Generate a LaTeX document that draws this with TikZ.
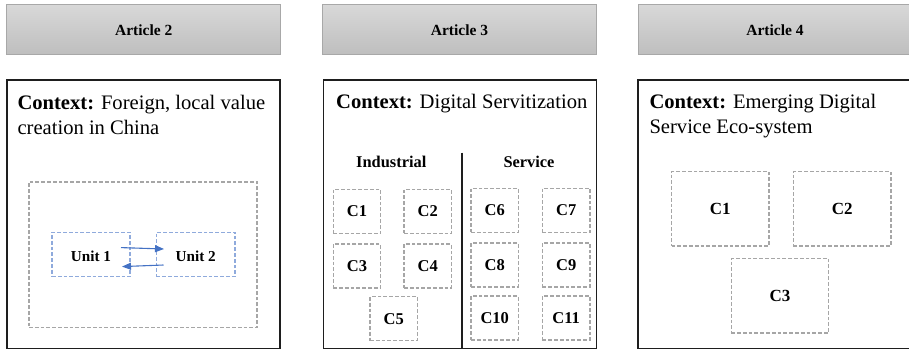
\documentclass[tikz,border=0pt]{standalone}
\usepackage{fontspec}
\setmainfont{Liberation Serif}
\usetikzlibrary{arrows.meta}
\definecolor{hdrtop}{HTML}{D8D8D8}
\definecolor{hdrbot}{HTML}{BEBEBE}
\definecolor{hdrline}{HTML}{A8A8A8}
\definecolor{dashgray}{HTML}{A6A6A6}
\definecolor{unitblue}{HTML}{8FAADC}
\definecolor{arrowblue}{HTML}{4472C4}
\definecolor{boxline}{HTML}{1E1E1E}
\tikzset{
  hdr/.style={draw=hdrline, line width=1pt, top color=hdrtop, bottom color=hdrbot,
    inner sep=0pt, minimum height=50pt, font=\bfseries\fontsize{15.5}{18}\selectfont},
  mainbox/.style={draw=boxline, line width=1.6pt, inner sep=0pt, minimum height=268.5pt},
  cbox/.style={draw=dashgray, line width=1.2pt, dash pattern=on 3.8pt off 2pt,
    inner sep=0pt, font=\bfseries\fontsize{16.5}{18}\selectfont},
  smallc/.style={cbox, minimum width=47.5pt, minimum height=44pt},
  bigc/.style={cbox, minimum width=97.5pt, minimum height=74.5pt, font=\bfseries\fontsize{17}{19}\selectfont},
  ubox/.style={draw=unitblue, line width=1.2pt, dash pattern=on 3.8pt off 2pt,
    inner sep=0pt, minimum height=44.4pt},
  ctx/.style={anchor=base west, inner sep=0pt, font=\fontsize{20.6}{25}\selectfont},
  lbl/.style={anchor=base, inner sep=0pt, font=\bfseries\fontsize{16.4}{18}\selectfont},
  ulbl/.style={anchor=base, inner sep=0pt, font=\bfseries\fontsize{15.2}{18}\selectfont},
  flow/.style={draw=arrowblue, line width=1.1pt, -{Triangle[length=9pt,width=7pt]}},
  divider/.style={draw=boxline, line width=1.5pt}
}
\begin{document}
\begin{tikzpicture}[x=1pt,y=-1pt]
\useasboundingbox (0,0) rectangle (909,350);
\clip (0,0) rectangle (909,350);

% headers
\node[hdr, minimum width=274pt] (h2) at (143.7,30) {Article 2};
\node[hdr, minimum width=274.4pt] (h3) at (459.5,30) {Article 3};
\node[hdr, minimum width=274pt] (h4) at (775,30) {Article 4};

% main boxes
\node[mainbox, minimum width=273.3pt] (m2) at (143.35,214.25) {};
\node[mainbox, minimum width=273.2pt] (m3) at (459.9,214.25) {};
\node[mainbox, minimum width=274pt] (m4) at (775,214.25) {};

% ---------- Article 2 ----------
\node[ctx] (t2a) at (17.3,109.5) {\textbf{Context:} Foreign, local value};
\node[ctx] (t2b) at (17.3,134) {creation in China};
\node[cbox, minimum width=228pt, minimum height=145.7pt] (outer2) at (143,254.8) {};
\node[ubox, minimum width=78pt] (u1) at (91,254.5) {};
\node[ubox, minimum width=78.7pt] (u2) at (195.7,254.5) {};
\node[ulbl] (u1t) at (91,261.5) {Unit 1};
\node[ulbl] (u2t) at (195.7,261.5) {Unit 2};
\coordinate (a1s) at (121,247.6);
\coordinate (a1e) at (164,249);
\coordinate (a2s) at (163.5,265);
\coordinate (a2e) at (122,266.6);
\draw[flow] (a1s) -- (a1e);
\draw[flow] (a2s) -- (a2e);

% ---------- Article 3 ----------
\node[ctx] (t3) at (336,108.8) {\textbf{Context:} Digital Servitization};
\coordinate (dtop) at (462,152.7);
\draw[divider] (dtop) -- (dtop |- m3.south);
\node[lbl] (ind) at (391.3,167) {Industrial};
\node[lbl] (ser) at (529,167) {Service};
\node[smallc] (c1) at (357,211.3) {C1};
\node[smallc] (c2) at (427.7,211.3) {C2};
\node[smallc] (c3) at (357,266) {C3};
\node[smallc] (c4) at (427.7,266) {C4};
\node[smallc] (c5) at (393.7,318.7) {C5};
\node[smallc] (c6) at (494.7,210.3) {C6};
\node[smallc] (c7) at (566.2,210.3) {C7};
\node[smallc] (c8) at (494.7,265) {C8};
\node[smallc] (c9) at (566.2,265) {C9};
\node[smallc] (c10) at (494.7,318) {C10};
\node[smallc] (c11) at (566.2,318) {C11};

% ---------- Article 4 ----------
\node[ctx] (t4a) at (649.3,108.5) {\textbf{Context:} Emerging Digital};
\node[ctx] (t4b) at (649.3,133) {Service Eco-system};
\node[bigc] (d1) at (720.3,208.8) {C1};
\node[bigc] (d2) at (842.2,208.8) {C2};
\node[bigc] (d3) at (780,295.8) {C3};
\end{tikzpicture}
\end{document}
